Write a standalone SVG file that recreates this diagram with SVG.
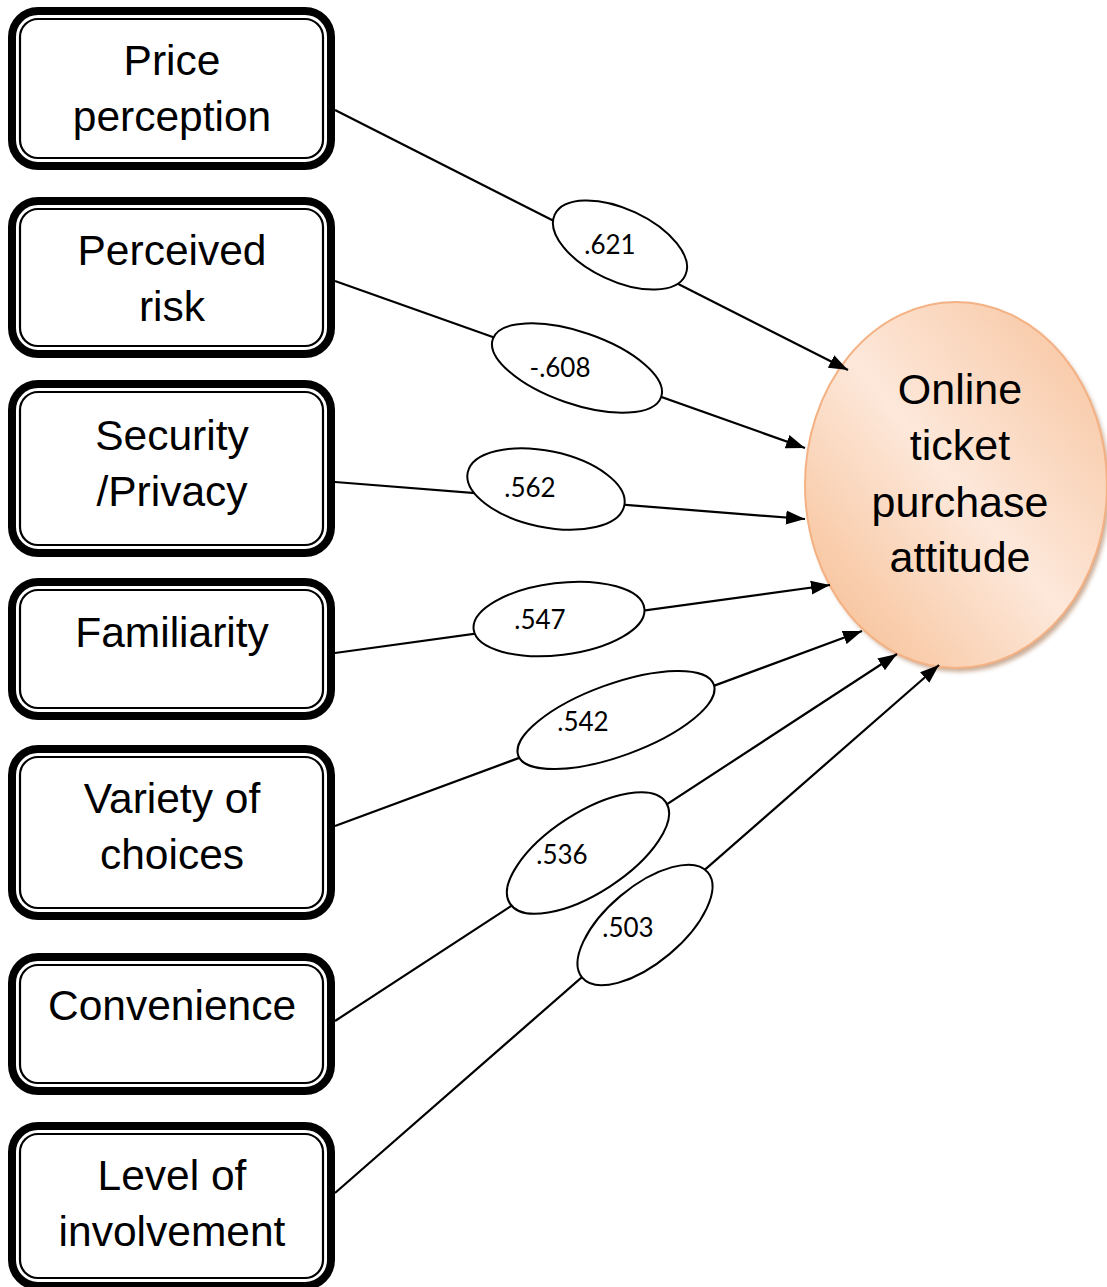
<svg xmlns="http://www.w3.org/2000/svg" width="1107" height="1287" viewBox="0 0 1107 1287">
<style>
.outer{fill:#fff;stroke:#000;stroke-width:8}
.inner{fill:none;stroke:#000;stroke-width:2.2}
.bt{font-family:"Liberation Sans",Arial,sans-serif;font-size:42.5px;fill:#000;text-anchor:middle}
.ct{font-family:"Liberation Sans",Arial,sans-serif;font-size:43px;fill:#000;text-anchor:middle}
.conn{stroke:#000;stroke-width:2.2;fill:none;marker-end:url(#arr)}
.lab{fill:#fff;stroke:#000;stroke-width:2}
.lt{font-family:Lato,"Open Sans",sans-serif;font-size:26px;fill:#000;text-anchor:middle}
</style>
<defs>
<marker id="arr" markerUnits="userSpaceOnUse" markerWidth="21" markerHeight="15" refX="19" refY="7.5" orient="auto">
<path d="M0,0.5 L19,7.5 L0,14.5 z" fill="#000"/>
</marker>
<linearGradient id="og" x1="0" y1="1" x2="1" y2="0">
<stop offset="0" stop-color="#f6ba8c"/>
<stop offset="0.5" stop-color="#fde8da"/>
<stop offset="1" stop-color="#f7c19a"/>
</linearGradient>
<filter id="sh" x="-10%" y="-10%" width="120%" height="120%">
<feGaussianBlur stdDeviation="2"/>
</filter>
</defs>

<g id="node-price">
<rect class="outer" x="12" y="11" width="319" height="155" rx="26"/>
<rect class="inner" x="20" y="19" width="303" height="139" rx="18"/>
<text class="bt" x="172" y="75">Price</text>
<text class="bt" x="172" y="131">perception</text>
</g>
<g id="node-risk">
<rect class="outer" x="12" y="201" width="319" height="153" rx="26"/>
<rect class="inner" x="20" y="209" width="303" height="137" rx="18"/>
<text class="bt" x="172" y="265">Perceived</text>
<text class="bt" x="172" y="321">risk</text>
</g>
<g id="node-security">
<rect class="outer" x="12" y="384" width="319" height="169" rx="26"/>
<rect class="inner" x="20" y="392" width="303" height="153" rx="18"/>
<text class="bt" x="172" y="450">Security</text>
<text class="bt" x="172" y="506">/Privacy</text>
</g>
<g id="node-familiarity">
<rect class="outer" x="12" y="582" width="319" height="134" rx="26"/>
<rect class="inner" x="20" y="590" width="303" height="118" rx="18"/>
<text class="bt" x="172" y="647">Familiarity</text>
</g>
<g id="node-variety">
<rect class="outer" x="12" y="749" width="319" height="167" rx="26"/>
<rect class="inner" x="20" y="757" width="303" height="151" rx="18"/>
<text class="bt" x="172" y="813">Variety of</text>
<text class="bt" x="172" y="869">choices</text>
</g>
<g id="node-convenience">
<rect class="outer" x="12" y="957" width="319" height="134" rx="26"/>
<rect class="inner" x="20" y="965" width="303" height="118" rx="18"/>
<text class="bt" x="172" y="1020">Convenience</text>
</g>
<g id="node-involvement">
<rect class="outer" x="12" y="1126" width="319" height="160" rx="26"/>
<rect class="inner" x="20" y="1134" width="303" height="144" rx="18"/>
<text class="bt" x="172" y="1190">Level of</text>
<text class="bt" x="172" y="1246">involvement</text>
</g>

<g id="node-attitude">
<ellipse cx="959" cy="489" rx="151" ry="183" fill="#b58a6a" opacity="0.7" filter="url(#sh)"/>
<ellipse cx="956" cy="485" rx="151" ry="183" fill="url(#og)" stroke="#f4b183" stroke-width="2"/>
<text class="ct" x="960" y="404">Online</text>
<text class="ct" x="960" y="460">ticket</text>
<text class="ct" x="960" y="517">purchase</text>
<text class="ct" x="960" y="572">attitude</text>
</g>

<g id="connectors">
<line class="conn" x1="335" y1="110" x2="848" y2="370"/>
<line class="conn" x1="335" y1="281" x2="805" y2="448"/>
<line class="conn" x1="335" y1="482" x2="805" y2="519"/>
<line class="conn" x1="335" y1="653" x2="830" y2="585"/>
<line class="conn" x1="335" y1="826" x2="862" y2="631"/>
<line class="conn" x1="335" y1="1021" x2="897" y2="654"/>
<line class="conn" x1="335" y1="1193" x2="939" y2="665"/>
<g id="labels">
<ellipse class="lab" cx="620" cy="245" rx="72" ry="36" transform="rotate(25 620 245)"/>
<text class="lt" x="610" y="254">.621</text>
<ellipse class="lab" cx="577" cy="368" rx="89" ry="36" transform="rotate(19 577 368)"/>
<text class="lt" x="560" y="377">-.608</text>
<ellipse class="lab" cx="546" cy="489" rx="80" ry="38" transform="rotate(12 546 489)"/>
<text class="lt" x="530" y="497">.562</text>
<ellipse class="lab" cx="559" cy="619" rx="86" ry="36" transform="rotate(-7 559 619)"/>
<text class="lt" x="540" y="629">.547</text>
<ellipse class="lab" cx="616" cy="720" rx="104" ry="36" transform="rotate(-20 616 720)"/>
<text class="lt" x="583" y="731">.542</text>
<ellipse class="lab" cx="588" cy="853" rx="93" ry="40" transform="rotate(-33 588 853)"/>
<text class="lt" x="562" y="864">.536</text>
<ellipse class="lab" cx="645" cy="925" rx="82" ry="38" transform="rotate(-40 645 925)"/>
<text class="lt" x="628" y="937">.503</text>
</g>
</g>
</svg>
